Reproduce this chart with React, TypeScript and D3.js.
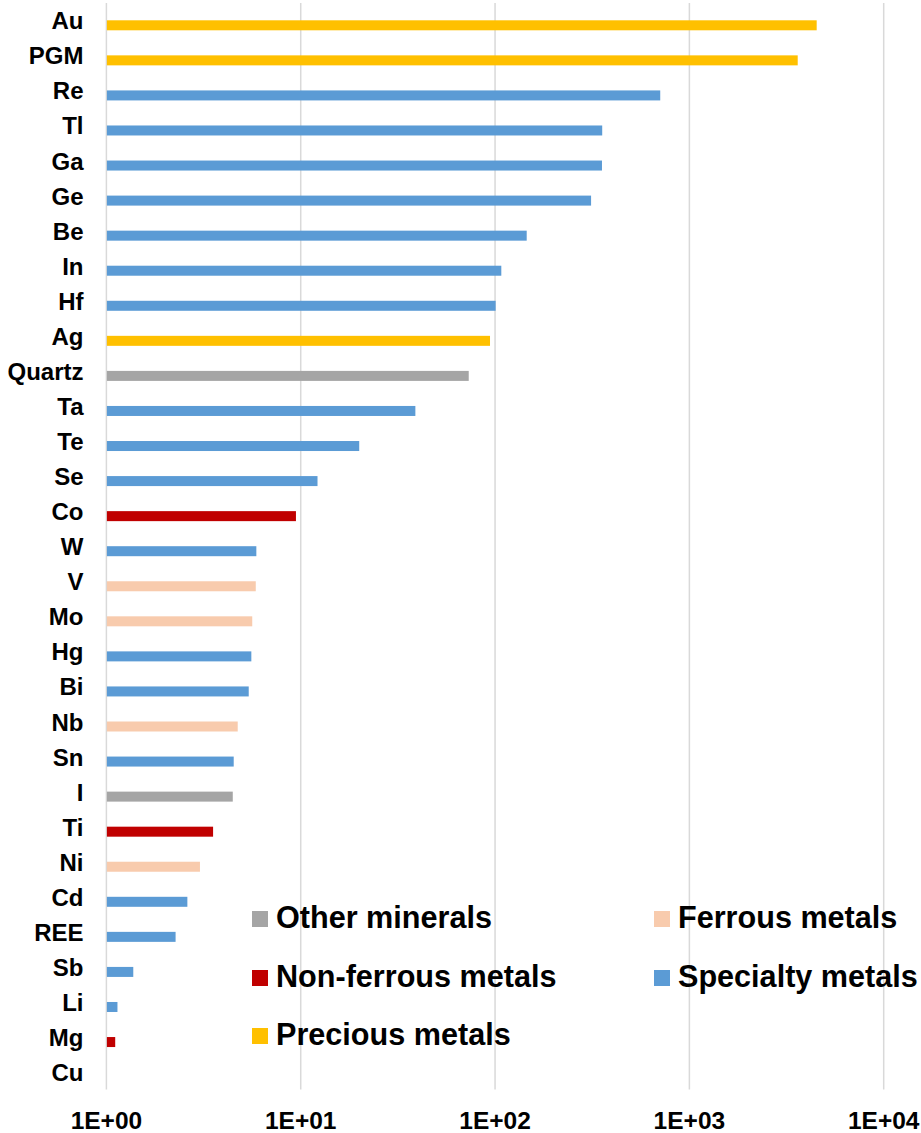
import React from "react";
import * as d3 from "d3";

const categories = ["Au","PGM","Re","Tl","Ga","Ge","Be","In","Hf","Ag","Quartz","Ta","Te","Se","Co","W","V","Mo","Hg","Bi","Nb","Sn","I","Ti","Ni","Cd","REE","Sb","Li","Mg","Cu"];
const values = [4520,3610,708,356,355,312,145.5,107.7,100.7,94.2,73.2,38.9,20.0,12.2,9.45,5.91,5.87,5.63,5.57,5.40,4.74,4.52,4.47,3.54,3.03,2.61,2.27,1.375,1.14,1.11,1.0];
const groups = ["Precious","Precious","Specialty","Specialty","Specialty","Specialty","Specialty","Specialty","Specialty","Precious","Other","Specialty","Specialty","Specialty","NonFerrous","Specialty","Ferrous","Ferrous","Specialty","Specialty","Ferrous","Specialty","Other","NonFerrous","Ferrous","Specialty","Specialty","Specialty","Specialty","NonFerrous","NonFerrous"];
const tickValues = [1,10,100,1000,10000];
const tickLabels = ["1E+00","1E+01","1E+02","1E+03","1E+04"];
const legendKeys = ["Other","Ferrous","NonFerrous","Specialty","Precious"];
const legendLabels = ["Other minerals","Ferrous metals","Non-ferrous metals","Specialty metals","Precious metals"];
const colorRange = ["#A5A5A5","#F8CBAD","#C00000","#5B9BD5","#FFC000"];

const FONT = "'Liberation Sans', Arial, Helvetica, sans-serif";

export default function App() {
  const W = 921, H = 1133;
  const x = d3.scaleLog().domain([1, 10000]).range([106.4, 883.7]);
  const y = d3.scalePoint<string>().domain(categories).range([25.3, 1077.1]);
  const color = d3.scaleOrdinal<string, string>().domain(legendKeys).range(colorRange);
  const barH = 10;
  const gridTop = 3, gridBottom = 1089.5;

  const legendPos = [
    { sx: 252, ty: 928 },
    { sx: 654, ty: 928 },
    { sx: 252, ty: 987 },
    { sx: 654, ty: 987 },
    { sx: 252, ty: 1045 },
  ];

  return (
    <svg width={W} height={H} style={{ position: "absolute", left: 0, top: 0, background: "#fff" }} fontFamily={FONT}>
      <rect x={0} y={0} width={W} height={H} fill="#fff" />
      {tickValues.map((t, i) => (
        <line key={"g" + i} x1={x(t)} x2={x(t)} y1={gridTop} y2={gridBottom} stroke="#D9D9D9" strokeWidth={1.5} />
      ))}
      {categories.map((c, i) => {
        const cy = y(c)!;
        const w = x(values[i]) - x(1);
        return (
          <g key={c}>
            {w > 0 && (
              <rect x={x(1) + 0.5} y={cy - barH / 2} width={Math.max(0, w - 0.5)} height={barH} fill={color(groups[i])} />
            )}
            <text x={83.5} y={cy + 4} textAnchor="end" fontSize={24} fontWeight="bold" fill="#000">{c}</text>
          </g>
        );
      })}
      {tickValues.map((t, i) => (
        <text key={"t" + i} x={x(t)} y={1129} textAnchor="middle" fontSize={24.5} fontWeight="bold" fill="#000">{tickLabels[i]}</text>
      ))}
      {legendKeys.map((k, i) => (
        <g key={k}>
          <rect x={legendPos[i].sx} y={legendPos[i].ty - 17} width={16} height={16} fill={color(k)} />
          <text x={legendPos[i].sx + 24} y={legendPos[i].ty} fontSize={30.6} fontWeight="bold" fill="#000">{legendLabels[i]}</text>
        </g>
      ))}
    </svg>
  );
}
